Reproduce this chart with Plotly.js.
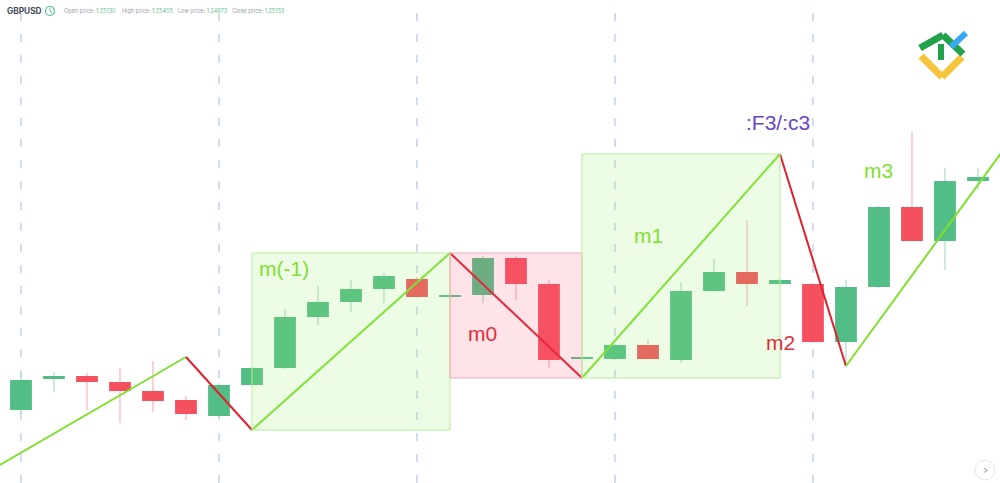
<!DOCTYPE html>
<html>
<head>
<meta charset="utf-8">
<script src="https://cdn.plot.ly/plotly-3.0.1.min.js"></script>
<style>html,body{margin:0;padding:0;background:#fff;}#chart{width:1000px;height:483px;}</style>
</head>
<body>
<div id="chart"></div>
<script>
// ---- DATA ----
const candleIdx = [0,1,2,3,4,5,6,7,8,9,10,11,12,13,14,15,16,17,18,19,20,21,22,23,24,25,26,27,28,29,30];
const openP  = [1.2073,1.2104,1.2107,1.2101,1.2092,1.2083,1.2067,1.2098,1.2115,1.2166,1.2181,1.2194,1.2204,1.2186,1.2188,1.2225,1.2199,1.2124,1.2124,1.2138,1.2123,1.2192,1.2211,1.2199,1.2199,1.2141,1.2196,1.2276,1.2242,1.2302,1.2306];
const highP  = [1.2110,1.2111,1.2110,1.2115,1.2122,1.2087,1.2100,1.2116,1.2174,1.2197,1.2203,1.2210,1.2206,1.2189,1.2227,1.2227,1.2203,1.2127,1.2139,1.2143,1.2201,1.2224,1.2263,1.2204,1.2200,1.2203,1.2277,1.2351,1.2315,1.2315,1.2307];
const lowP   = [1.2069,1.2091,1.2073,1.2060,1.2071,1.2063,1.2065,1.2097,1.2114,1.2158,1.2171,1.2180,1.2185,1.2185,1.2180,1.2183,1.2115,1.2123,1.2123,1.2123,1.2120,1.2191,1.2177,1.2198,1.2140,1.2118,1.2195,1.2241,1.2213,1.2293,1.2297];
const closeP = [1.2103,1.2107,1.2101,1.2092,1.2082,1.2069,1.2098,1.2115,1.2166,1.2181,1.2194,1.2207,1.2186,1.2188,1.2225,1.2199,1.2123,1.2126,1.2138,1.2124,1.2192,1.2211,1.2199,1.2203,1.2141,1.2196,1.2276,1.2242,1.2302,1.2306,1.2298];

const zigX = [-0.64, 5, 7, 13, 17, 23, 25, 29.7];
const zigY = [1.2018, 1.2126, 1.2053, 1.2230, 1.2105, 1.2329, 1.2117, 1.2330];

const sessionLines = [0, 6, 12, 18, 24];

const waveLabels = ["m(-1)", "m0", "m1", "m2", "m3", ":F3/:c3"];

const headerSymbol = "GBPUSD";
const headerFields = ["Open price:", "High price:", "Low price:", "Close price:"];
const headerValues = ["1.25130", "1.25405", "1.24873", "1.25133"];

// ---- STYLE ----
const GREEN = '#52bd85', RED = '#f5505e';
const GREEN_WICK = '#9ad6b6', RED_WICK = '#f7a3ab';
const LIME = '#7fe02e', ZRED = '#e0202e';
const W = 1000, H = 483;
const px = (x) => x / W;
const py = (y) => 1 - y / H;

const traces = [];
// wicks (outside of the body), grouped by candle direction
[true, false].forEach(up => {
  const wx = [], wy = [];
  candleIdx.forEach((k, i) => {
    if ((closeP[i] >= openP[i]) === up) {
      const top = Math.max(openP[i], closeP[i]), bot = Math.min(openP[i], closeP[i]);
      wx.push(k, k, null, k, k, null);
      wy.push(top, highP[i], null, lowP[i], bot, null);
    }
  });
  traces.push({type: 'scatter', mode: 'lines', x: wx, y: wy,
    line: {color: up ? GREEN_WICK : RED_WICK, width: 1},
    hoverinfo: 'skip', showlegend: false});
});
// bodies
traces.push({
  type: 'bar', x: candleIdx,
  base: candleIdx.map((k, i) => Math.min(openP[i], closeP[i])),
  y: candleIdx.map((k, i) => Math.abs(closeP[i] - openP[i])),
  width: 0.66,
  marker: {color: candleIdx.map((k, i) => closeP[i] >= openP[i] ? GREEN : RED), line: {width: 0}},
  hoverinfo: 'skip', showlegend: false
});

// zigzag segments
for (let i = 0; i < zigX.length - 1; i++) {
  const up = zigY[i + 1] > zigY[i];
  traces.push({
    type: 'scatter', mode: 'lines',
    x: [zigX[i], zigX[i + 1]], y: [zigY[i], zigY[i + 1]],
    line: {color: up ? LIME : ZRED, width: 2},
    hoverinfo: 'skip', showlegend: false
  });
}

const shapes = [];
// dashed session lines
sessionLines.forEach(k => shapes.push({
  type: 'line', xref: 'x', yref: 'paper', x0: k, x1: k, y0: 0, y1: 1,
  line: {color: '#a9bce0', width: 1, dash: '8px,13px'}, layer: 'below'
}));
// wave boxes between consecutive zigzag pivots
[2, 3, 4].forEach(i => {
  const up = zigY[i + 1] > zigY[i];
  shapes.push({
    type: 'rect', xref: 'x', yref: 'y',
    x0: zigX[i], x1: zigX[i + 1],
    y0: Math.min(zigY[i], zigY[i + 1]), y1: Math.max(zigY[i], zigY[i + 1]),
    fillcolor: up ? 'rgba(150,235,100,0.17)' : 'rgba(248,90,120,0.17)',
    line: {color: up ? '#b5f09a' : '#f6aab6', width: 1},
    layer: 'above'
  });
});

// logo
const seg = (x0, y0, x1, y1, c, w) => shapes.push({
  type: 'line', xref: 'paper', yref: 'paper',
  x0: px(x0), y0: py(y0), x1: px(x1), y1: py(y1),
  line: {color: c, width: w}
});
seg(921, 56, 942, 77, '#f5c53c', 7);
seg(942, 77, 962, 57, '#f5c53c', 7);
seg(920, 48, 943, 35, '#20a34a', 7);
seg(943, 35, 963, 54, '#20a34a', 7);
seg(941, 44, 941, 60, '#20a34a', 6);
seg(951, 47, 966, 33, '#3aa8f0', 6);

// scroll button
shapes.push({type: 'circle', xref: 'paper', yref: 'paper',
  x0: px(975), x1: px(995), y0: py(480), y1: py(460),
  line: {color: '#e6e6e6', width: 1}, fillcolor: '#ffffff'});
// clock icon
shapes.push({type: 'circle', xref: 'paper', yref: 'paper',
  x0: px(45.5), x1: px(54.5), y0: py(15.5), y1: py(6.5),
  line: {color: '#4fbf8a', width: 1.2}});
seg(50, 8.5, 50, 11.2, '#4fbf8a', 1);
seg(50, 11.2, 52, 12.5, '#4fbf8a', 1);

const annotations = [];
const lab = (t, x, y, c) => annotations.push({
  text: t, xref: 'paper', yref: 'paper', x: px(x), y: py(y),
  xanchor: 'left', yanchor: 'middle', showarrow: false,
  font: {family: 'Liberation Sans, Arial, sans-serif', size: 21, color: c}
});
lab(waveLabels[0], 257, 268, LIME);
lab(waveLabels[1], 466, 333, '#e0303a');
lab(waveLabels[2], 632, 235, LIME);
lab(waveLabels[3], 764, 342, '#e0303a');
lab(waveLabels[4], 862, 170, LIME);
lab(waveLabels[5], 744, 123, '#6a46c2');

annotations.push({text: '<b>' + headerSymbol + '</b>', xref: 'paper', yref: 'paper',
  x: px(5), y: py(11), xanchor: 'left', yanchor: 'middle', showarrow: false,
  font: {family: 'Inter, Roboto, sans-serif', size: 8.3, color: '#3e4b5b'}});
const hx = [62, 120, 176, 230];
headerFields.forEach((f, i) => annotations.push({
  text: f + ' <span style="color:#5fc191">' + headerValues[i] + '</span>',
  xref: 'paper', yref: 'paper', x: px(hx[i]), y: py(11),
  xanchor: 'left', yanchor: 'middle', showarrow: false,
  font: {family: 'Inter, Roboto, sans-serif', size: 5.5, color: '#97a2ae'}
}));
annotations.push({text: '›', xref: 'paper', yref: 'paper', x: px(985), y: py(469),
  xanchor: 'center', yanchor: 'middle', showarrow: false,
  font: {family: 'DejaVu Sans, sans-serif', size: 13, color: '#9a9a9a'}});

const layout = {
  width: W, height: H,
  margin: {l: 0, r: 0, t: 0, b: 0, pad: 0},
  paper_bgcolor: '#ffffff', plot_bgcolor: '#ffffff',
  showlegend: false,
  barmode: 'overlay',
  xaxis: {range: [-0.636, 29.667], showgrid: false, zeroline: false, showticklabels: false,
          showline: false, ticks: '', fixedrange: true},
  yaxis: {range: [1.2, 1.2483], showgrid: false, zeroline: false, showticklabels: false,
          showline: false, ticks: '', fixedrange: true},
  shapes: shapes,
  annotations: annotations
};

Plotly.newPlot('chart', traces, layout, {displayModeBar: false, staticPlot: true});
</script>
</body>
</html>
